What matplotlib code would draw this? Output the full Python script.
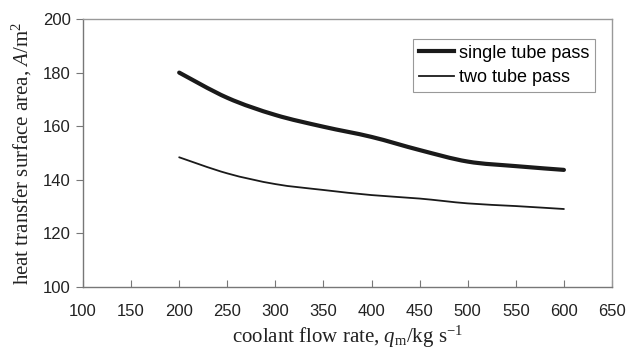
import matplotlib
matplotlib.use("Agg")
import matplotlib.pyplot as plt
from matplotlib.path import Path
from matplotlib.patches import PathPatch
from matplotlib.lines import Line2D

# data
flow = [200, 250, 300, 350, 400, 450, 500, 550, 600]
single_pass = [180.0, 170.6, 164.2, 159.8, 156.0, 151.1, 146.8, 145.1, 143.7]
two_pass = [148.4, 142.4, 138.4, 136.2, 134.3, 133.0, 131.2, 130.2, 129.1]

x_ticks = [100, 150, 200, 250, 300, 350, 400, 450, 500, 550, 600, 650]
y_ticks = [100, 120, 140, 160, 180, 200]

plt.rcParams['mathtext.fontset'] = 'custom'
plt.rcParams['mathtext.rm'] = 'Liberation Serif'
plt.rcParams['mathtext.it'] = 'Liberation Serif:italic'


def smooth_path(xs, ys):
    # excel-like smoothed line: cubic bezier through the points
    pts = list(zip(xs, ys))
    verts = [pts[0]]
    codes = [Path.MOVETO]
    n = len(pts)
    for i in range(n - 1):
        p0 = pts[max(i - 1, 0)]
        p1 = pts[i]
        p2 = pts[i + 1]
        p3 = pts[min(i + 2, n - 1)]
        c1 = (p1[0] + (p2[0] - p0[0]) / 6, p1[1] + (p2[1] - p0[1]) / 6)
        c2 = (p2[0] - (p3[0] - p1[0]) / 6, p2[1] - (p3[1] - p1[1]) / 6)
        verts += [c1, c2, p2]
        codes += [Path.CURVE4] * 3
    return Path(verts, codes)


fig = plt.figure(figsize=(6.28, 3.5), dpi=100)
ax = fig.add_axes([83/628, 1 - 287/350, 529/628, 268/350])

ax.add_patch(PathPatch(smooth_path(flow, single_pass), fill=False, edgecolor="#1a1a1a",
                       lw=3.0, capstyle='round', joinstyle='round'))
ax.add_patch(PathPatch(smooth_path(flow, two_pass), fill=False, edgecolor="#1a1a1a",
                       lw=1.3, capstyle='round', joinstyle='round'))

ax.set_xlim(100, 650)
ax.set_ylim(100, 200)
ax.set_xticks(x_ticks)
ax.set_yticks(y_ticks)

for sp in ax.spines.values():
    sp.set_color("#999999")
    sp.set_linewidth(1.0)
ax.spines['bottom'].set_color("#777777")
ax.spines['left'].set_color("#777777")

ax.tick_params(axis='x', direction='in', length=5, color="#777777", pad=12)
ax.tick_params(axis='y', direction='out', length=5, color="#777777", pad=4)
for lab in ax.get_xticklabels() + ax.get_yticklabels():
    lab.set_family('Liberation Sans')
    lab.set_fontsize(12)
    lab.set_color("#222222")

ax.set_xlabel(r'coolant flow rate, $q_\mathrm{m}$/kg s$^{-1}$', family='Liberation Serif',
              fontsize=15, color="#222222", labelpad=4)
ax.set_ylabel(r'heat transfer surface area, $A$/m$^2$', family='Liberation Serif',
              fontsize=15, color="#222222", labelpad=6)

handles = [Line2D([], [], color="#1a1a1a", lw=3.0),
           Line2D([], [], color="#1a1a1a", lw=1.3)]
leg = ax.legend(handles, ["single tube pass", "two tube pass"],
                loc='upper right', bbox_to_anchor=(0.968, 0.924), borderaxespad=0,
                fancybox=False, framealpha=1, edgecolor="#999999",
                prop={'family': 'Liberation Sans', 'size': 13},
                handlelength=1.95, handletextpad=0.3, labelspacing=0.42, borderpad=0.3)
leg.get_frame().set_linewidth(0.8)

fig.savefig("out.png", dpi=100)
